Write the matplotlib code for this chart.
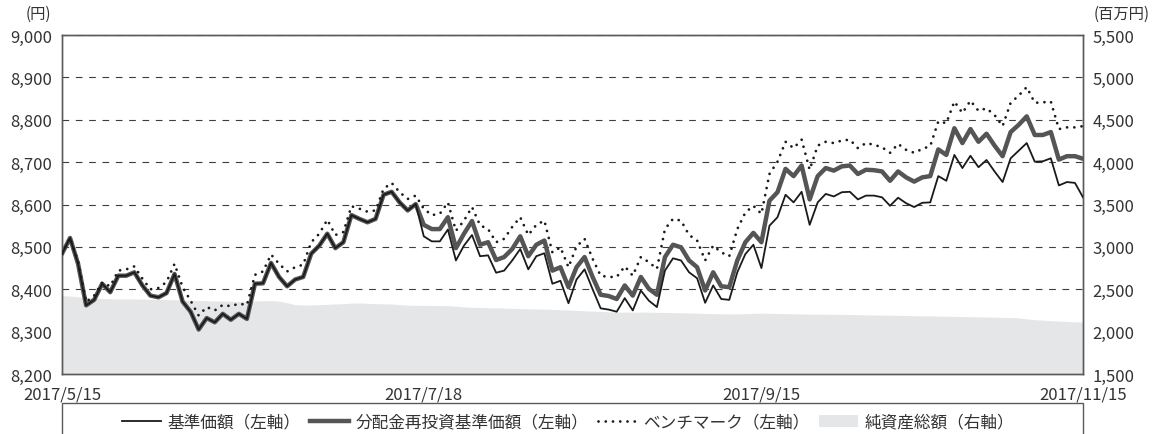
import numpy as np
import pandas as pd
import matplotlib
matplotlib.use("Agg")
import matplotlib.pyplot as plt
from matplotlib.lines import Line2D
from matplotlib.patches import Patch, Rectangle
from matplotlib.ticker import FuncFormatter

plt.rcParams['font.family'] = ['Noto Sans CJK JP', 'DejaVu Sans']

# 営業日 (東証休場日を除く)
holidays = ['2017-07-17', '2017-08-11', '2017-09-18', '2017-10-09', '2017-11-03']
dates = pd.bdate_range('2017-05-15', '2017-11-15', freq='C', holidays=holidays)
tick_dates = ['2017-05-15', '2017-07-18', '2017-09-15', '2017-11-15']

# 基準価額
nav = [8484, 8521, 8460, 8362, 8375, 8413, 8393, 8432, 8432, 8440,
       8409, 8385, 8381, 8391, 8436, 8371, 8347, 8305, 8332, 8322,
       8342, 8328, 8342, 8330, 8413, 8414, 8462, 8429, 8407, 8423,
       8429, 8484, 8503, 8531, 8497, 8511, 8575, 8566, 8558, 8566,
       8623, 8630, 8605, 8586, 8601, 8525, 8513, 8513, 8541, 8468,
       8503, 8528, 8478, 8480, 8439, 8444, 8468, 8495, 8447, 8478,
       8485, 8413, 8420, 8367, 8423, 8447, 8400, 8355, 8352, 8347,
       8379, 8350, 8397, 8373, 8358, 8444, 8473, 8468, 8440, 8426,
       8368, 8409, 8377, 8375, 8440, 8483, 8505, 8450, 8550, 8570,
       8623, 8605, 8630, 8552, 8605, 8625, 8619, 8629, 8630, 8612,
       8621, 8621, 8617, 8597, 8616, 8603, 8594, 8604, 8605, 8667,
       8656, 8717, 8686, 8715, 8688, 8705, 8678, 8653, 8709, 8727,
       8745, 8701, 8702, 8709, 8645, 8653, 8651, 8617]

# 分配金再投資基準価額
nav_reinv = nav[:45] + [
       8552, 8542, 8542, 8570, 8497,
       8531, 8561, 8505, 8511, 8469, 8476, 8495, 8525, 8478, 8505,
       8515, 8444, 8452, 8405, 8452, 8476, 8429, 8387, 8384, 8377,
       8409, 8385, 8429, 8401, 8387, 8476, 8505, 8499, 8468, 8452,
       8397, 8440, 8407, 8405, 8468, 8511, 8533, 8511, 8609, 8629,
       8684, 8667, 8692, 8612, 8667, 8686, 8680, 8690, 8692, 8672,
       8682, 8681, 8678, 8656, 8678, 8664, 8654, 8664, 8667, 8730,
       8717, 8780, 8745, 8778, 8748, 8767, 8739, 8714, 8771, 8788,
       8808, 8764, 8764, 8771, 8706, 8714, 8714, 8708]

# ベンチマーク
bench = [8484, 8521, 8465, 8370, 8385, 8416, 8407, 8444, 8447, 8454,
         8425, 8400, 8403, 8417, 8460, 8405, 8373, 8338, 8358, 8350,
         8363, 8360, 8366, 8363, 8434, 8442, 8482, 8460, 8442, 8452,
         8458, 8511, 8531, 8564, 8528, 8535, 8596, 8590, 8583, 8586,
         8637, 8651, 8629, 8613, 8621, 8590, 8575, 8578, 8605, 8538,
         8562, 8594, 8551, 8542, 8511, 8519, 8547, 8570, 8528, 8552,
         8562, 8487, 8499, 8452, 8501, 8519, 8472, 8432, 8429, 8429,
         8454, 8432, 8476, 8464, 8448, 8542, 8566, 8562, 8528, 8515,
         8468, 8503, 8487, 8478, 8542, 8581, 8597, 8578, 8672, 8701,
         8748, 8733, 8753, 8682, 8739, 8748, 8745, 8751, 8753, 8733,
         8745, 8741, 8735, 8722, 8743, 8729, 8722, 8731, 8738, 8796,
         8792, 8843, 8816, 8845, 8821, 8827, 8811, 8785, 8840, 8857,
         8877, 8840, 8841, 8843, 8778, 8782, 8782, 8785]

# 純資産総額 (百万円)
assets = [2424, 2420, 2410, 2400, 2395, 2390, 2388, 2385, 2386, 2385,
          2384, 2383, 2380, 2378, 2376, 2374, 2372, 2368, 2365, 2362,
          2360, 2358, 2355, 2356, 2362, 2365, 2366, 2360, 2340, 2318,
          2314, 2315, 2318, 2322, 2326, 2330, 2336, 2338, 2334, 2330,
          2328, 2326, 2318, 2312, 2310, 2310, 2309, 2308, 2306, 2300,
          2292, 2287, 2285, 2282, 2280, 2278, 2275, 2272, 2270, 2267,
          2265, 2262, 2258, 2255, 2250, 2246, 2242, 2238, 2234, 2231,
          2230, 2229, 2230, 2229, 2228, 2226, 2224, 2222, 2220, 2218,
          2214, 2212, 2210, 2208, 2210, 2212, 2216, 2218, 2216, 2214,
          2212, 2210, 2208, 2207, 2206, 2205, 2204, 2203, 2202, 2200,
          2198, 2196, 2195, 2194, 2192, 2190, 2188, 2186, 2185, 2183,
          2182, 2180, 2178, 2176, 2174, 2172, 2170, 2168, 2166, 2162,
          2150, 2140, 2135, 2130, 2125, 2120, 2116, 2113]

labels = ['基準価額（左軸）', '分配金再投資基準価額（左軸）',
          'ベンチマーク（左軸）', '純資産総額（右軸）']

x = np.arange(len(dates))
frame_color = '#5a5a5a'
text_color = '#333333'
fs = 12
dotted = (0, (0.01, 2.6))

fig = plt.figure(figsize=(11.63, 4.35), dpi=100)
ax = fig.add_axes([62 / 1163, 1 - 375 / 435, 1021 / 1163, 339 / 435])
ax2 = ax.twinx()

# 純資産総額 (背面)
ax2.set_axisbelow(True)
ax2.fill_between(x, 1500, assets, color='#e5e6e7', lw=0, zorder=2)
ax2.set_ylim(1500, 5500)
ax2.set_yticks(np.arange(1500, 5501, 500))
ax2.yaxis.grid(True, color='#3c3c3c', lw=0.8, linestyle=(0, (6, 6)), zorder=1)

ax.set_zorder(ax2.get_zorder() + 1)
ax.patch.set_visible(False)

ax.plot(x, nav_reinv, color='#555555', lw=3.2, zorder=3)
ax.plot(x, nav, color='#1a1a1a', lw=1.3, zorder=4)
ax.plot(x, bench, color='#1a1a1a', lw=2.0, linestyle=dotted,
        dash_capstyle='round', zorder=5)

ax.set_xlim(0, len(dates) - 1)
ax.set_ylim(8200, 9000)
ax.set_yticks(np.arange(8200, 9001, 100))

tick_idx = [dates.get_loc(pd.Timestamp(d)) for d in tick_dates]
ax.set_xticks(tick_idx)
ax.set_xticklabels([f"{dates[i].year}/{dates[i].month}/{dates[i].day}" for i in tick_idx])

comma = FuncFormatter(lambda v, p: f"{int(v):,}")
ax.yaxis.set_major_formatter(comma)
ax2.yaxis.set_major_formatter(comma)

for a in (ax, ax2):
    a.tick_params(length=0, labelsize=fs, colors=text_color)
    for s in a.spines.values():
        s.set_color(frame_color)
        s.set_linewidth(1.0)
ax.tick_params(axis='y', pad=7)
ax2.tick_params(axis='y', pad=7)
ax.tick_params(axis='x', pad=8)

fig.text(38 / 1163, 1 - 14 / 435, '(円)', ha='center', va='center', fontsize=11, color=text_color)
fig.text(1122 / 1163, 1 - 14 / 435, '(百万円)', ha='center', va='center', fontsize=11, color=text_color)

# 凡例
fig.patches.append(Rectangle((62 / 1163, -0.1), 1021 / 1163, 0.1 + 1 - 404 / 435,
                             transform=fig.transFigure, fill=False,
                             edgecolor=frame_color, lw=1.0))
handles = [Line2D([], [], color='#1a1a1a', lw=1.3),
           Line2D([], [], color='#555555', lw=3.2),
           Line2D([], [], color='#1a1a1a', lw=2.0, linestyle=dotted,
                  dash_capstyle='round'),
           Patch(facecolor='#e5e6e7', edgecolor='none')]
fig.legend(handles, labels, loc='center', bbox_to_anchor=(568 / 1163, 1 - 423 / 435),
           ncol=4, frameon=False, fontsize=fs, handlelength=2.3, handletextpad=0.4,
           columnspacing=0.6, labelcolor=text_color)

fig.savefig('out.png', dpi=100)
